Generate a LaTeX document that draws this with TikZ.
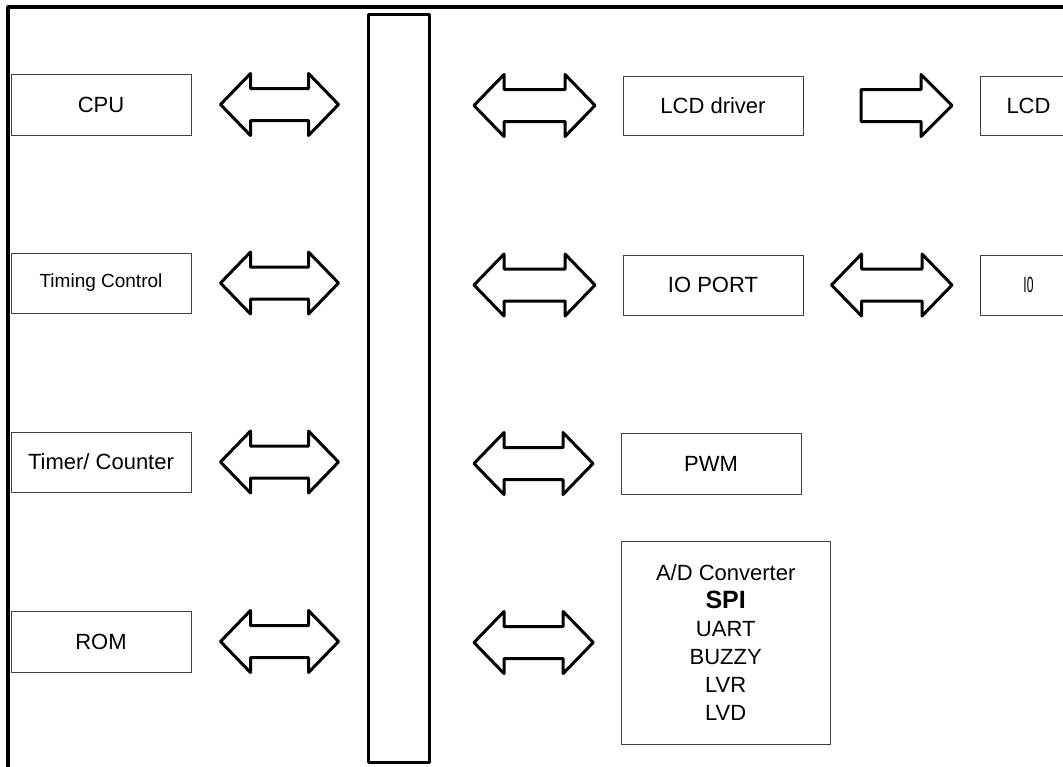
\documentclass[tikz,border=0pt]{standalone}
\usepackage{fontspec}
\setmainfont{Liberation Sans}
\usetikzlibrary{calc}

\tikzset{
  blk/.style={draw=black!75,line width=1pt,minimum width=180pt,inner sep=0pt,
    font=\fontsize{22}{28}\selectfont},
  blockarrow/.style={draw=black,line width=3pt,fill=white},
  busbar/.style={draw=black,line width=3pt,minimum width=61pt,minimum height=748pt,inner sep=0pt}
}
% double block arrow between two tips on one height
\newcommand{\dblarrow}[2]{%
\draw[blockarrow] (#1) -- ($(#1)+(30,-31)$) -- ($(#1)+(30,-16)$) -- ($(#2)+(-30,-16)$) -- ($(#2)+(-30,-31)$) -- (#2) -- ($(#2)+(-30,31)$) -- ($(#2)+(-30,16)$) -- ($(#1)+(30,16)$) -- ($(#1)+(30,31)$) -- cycle;}
% single block arrow, tail #1, tip #2
\newcommand{\onearrow}[2]{%
\draw[blockarrow] ($(#1)+(0,-16)$) -- ($(#2)+(-31,-16)$) -- ($(#2)+(-31,-31)$) -- (#2) -- ($(#2)+(-31,31)$) -- ($(#2)+(-31,16)$) -- ($(#1)+(0,16)$) -- cycle;}

\begin{document}
\begin{tikzpicture}[x=1pt,y=-1pt,line join=round]
\clip (0,0) rectangle (1063,766);
\fill[white] (0,0) rectangle (1063,766);
\draw[line width=3.5pt] (8,800) -- (8,7) -- (1100,7);

\node[busbar] (bus) at (398.5,388) {};

\node[blk,minimum height=61pt] (cpu) at (101,104.5) {CPU};
\node[blk,minimum height=60pt,font=\fontsize{19}{24}\selectfont] (timing) at (101,283) {Timing Control};
\node[blk,minimum height=60pt] (timer) at (101,462) {Timer/ Counter};
\node[blk,minimum height=61pt] (rom) at (101,641.5) {ROM};

\node[blk,minimum height=59pt] (lcddrv) at (713,105.5) {LCD driver};
\node[blk,minimum height=60pt] (ioport) at (713,285) {IO PORT};
\node[blk,minimum height=61pt] (pwm) at (711,463.5) {PWM};
\node[blk,minimum width=209pt,minimum height=203pt,align=center] (periph) at (725.7,642.5)
  {A/D Converter\\{\fontsize{25}{28}\selectfont\bfseries SPI}\\UART\\BUZZY\\LVR\\LVD};
\node[blk,minimum width=96pt,minimum height=59pt] (lcd) at (1028.5,105.5) {LCD};
\node[blk,minimum width=96pt,minimum height=60pt] (io) at (1028.5,285) {\scalebox{0.55}[1]{I0}};

% left side
\foreach \n in {cpu,timing,timer,rom}{
  \coordinate (l\n) at ($(\n.east)+(29,0)$);
  \coordinate (r\n) at ($(bus.west |- \n.east)+(-28,0)$);
  \dblarrow{l\n}{r\n}
}
% right side
\foreach \n in {lcddrv,ioport,pwm,periph}{
  \coordinate (l\n) at ($(bus.east |- \n.west)+(43.5,0)$);
  \coordinate (r\n) at ($(\n.west)+(-27.5,0)$);
  \dblarrow{l\n}{r\n}
}
\coordinate (tlcd) at ($(lcddrv.east)+(57.5,0)$);
\coordinate (hlcd) at ($(lcd.west)+(-28,0)$);
\onearrow{tlcd}{hlcd}
\coordinate (lio) at ($(ioport.east)+(28,0)$);
\coordinate (rio) at ($(io.west)+(-28,0)$);
\dblarrow{lio}{rio}
\end{tikzpicture}
\end{document}
